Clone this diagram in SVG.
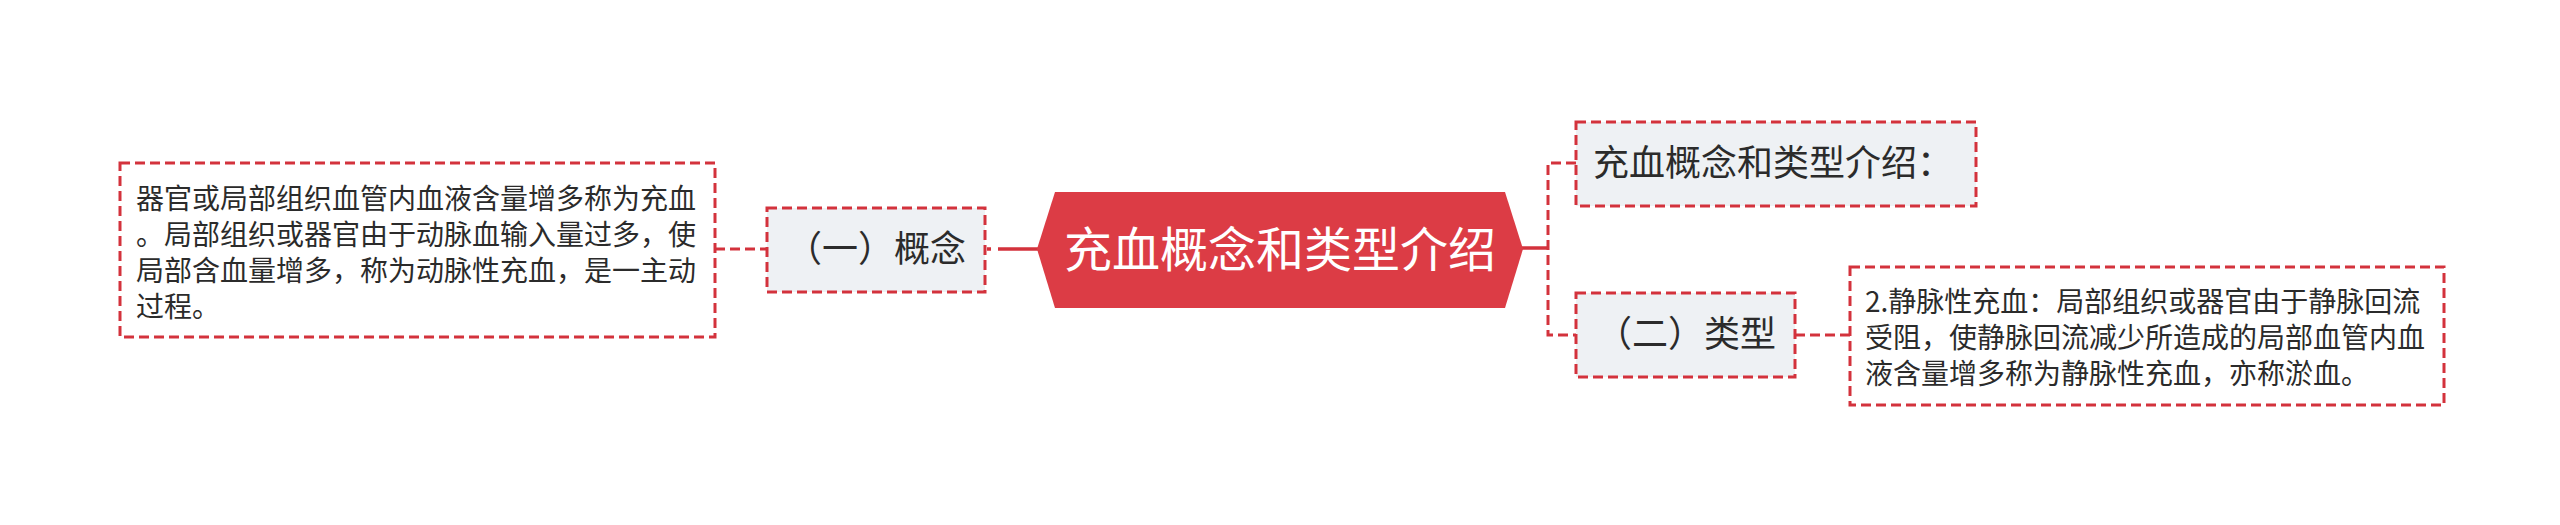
<svg xmlns="http://www.w3.org/2000/svg" width="2560" height="525" viewBox="0 0 2560 525">
<style>
  text { font-family: "Noto Sans CJK SC", "Noto Sans", sans-serif; fill: #2b2b2b; }
  .box { stroke: #d3323c; stroke-width: 3; stroke-dasharray: 10 5; }
  .sub { fill: #eef1f4; }
  .leaf { fill: #ffffff; }
  .dash { fill: none; stroke: #d3323c; stroke-width: 3; stroke-dasharray: 10 5; }
  .solid { fill: none; stroke: #d3323c; stroke-width: 3.5; }
  .t36 { font-size: 36px; }
  .t28 { font-size: 28px; }
</style>
<rect width="2560" height="525" fill="#ffffff"/>
<g id="connectors">
  <line class="dash" x1="715" y1="249" x2="767" y2="249"/>
  <line class="solid" x1="987" y1="249" x2="1038" y2="249" stroke-dasharray="4 7 100"/>
  <line class="solid" x1="1522" y1="248" x2="1548" y2="248"/>
  <path class="dash" d="M1576,163 H1548 V335 H1576" stroke-width="3.5"/>
  <line class="dash" x1="1795" y1="335" x2="1850" y2="335"/>
</g>
<g id="root">
  <polygon points="1037,249 1055,192 1505,192 1523,249 1505,308 1055,308" fill="#dc3c45"/>
  <text x="1280" y="267" font-size="48" text-anchor="middle" style="fill:#ffffff">充血概念和类型介绍</text>
</g>
<g id="node-concept">
  <rect class="box sub" x="767" y="208" width="218" height="84"/>
  <text class="t36" x="876" y="262" text-anchor="middle">（一）概念</text>
</g>
<g id="node-concept-text">
  <rect class="box leaf" x="120" y="163" width="595" height="174"/>
  <text class="t28" x="136" y="209">器官或局部组织血管内血液含量增多称为充血</text>
  <text class="t28" x="136" y="245">。局部组织或器官由于动脉血输入量过多，使</text>
  <text class="t28" x="136" y="281">局部含血量增多，称为动脉性充血，是一主动</text>
  <text class="t28" x="136" y="317">过程。</text>
</g>
<g id="node-intro">
  <rect class="box sub" x="1576" y="122" width="400" height="84"/>
  <text class="t36" x="1593" y="176">充血概念和类型介绍：</text>
</g>
<g id="node-types">
  <rect class="box sub" x="1576" y="293" width="219" height="84"/>
  <text class="t36" x="1686" y="347" text-anchor="middle">（二）类型</text>
</g>
<g id="node-types-text">
  <rect class="box leaf" x="1850" y="267" width="594" height="138"/>
  <text class="t28" x="1865" y="312">2.静脉性充血：局部组织或器官由于静脉回流</text>
  <text class="t28" x="1865" y="348">受阻，使静脉回流减少所造成的局部血管内血</text>
  <text class="t28" x="1865" y="384">液含量增多称为静脉性充血，亦称淤血。</text>
</g>
</svg>
